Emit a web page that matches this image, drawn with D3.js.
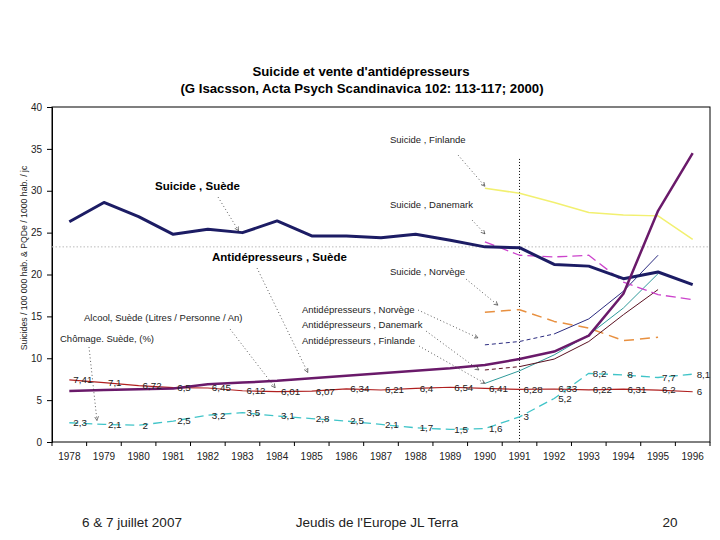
<!DOCTYPE html>
<html><head><meta charset="utf-8">
<script src="https://cdn.jsdelivr.net/npm/d3@7"></script>
<style>
html,body{margin:0;padding:0;background:#fff;}
svg{display:block;font-family:"Liberation Sans",Arial,sans-serif;}
</style></head>
<body>
<svg id="chart" width="720" height="540"></svg>
<script>
const years = [1978,1979,1980,1981,1982,1983,1984,1985,1986,1987,1988,1989,1990,1991,1992,1993,1994,1995,1996];
const yTicks = [0,5,10,15,20,25,30,35,40];
const N = null;
const suicideSuede    = [26.3,28.6,26.9,24.8,25.4,25.0,26.4,24.6,24.6,24.4,24.8,24.1,23.3,23.2,21.2,21.0,19.5,20.3,18.8];
const suicideFinlande = [N,N,N,N,N,N,N,N,N,N,N,N,30.3,29.7,28.6,27.4,27.1,27.0,24.2];
const suicideDanemark = [N,N,N,N,N,N,N,N,N,N,N,N,23.9,22.3,22.1,22.3,19.1,17.6,17.0];
const suicideNorvege  = [N,N,N,N,N,N,N,N,N,N,N,N,15.5,15.8,14.4,13.6,12.1,12.5,N];
const adSuede         = [6.1,6.2,6.3,6.4,6.9,7.1,7.3,7.6,7.9,8.2,8.5,8.8,9.2,9.9,10.8,12.7,17.7,27.6,34.5];
const adNorvege       = [N,N,N,N,N,N,N,N,N,N,N,N,11.6,12.0,12.9,14.7,18.0,22.3,N];
const adDanemark      = [N,N,N,N,N,N,N,N,N,N,N,N,8.6,9.0,9.9,12.0,15.2,18.2,N];
const adFinlande      = [N,N,N,N,N,N,N,N,N,N,N,N,7.0,8.5,10.4,12.8,16.0,20.1,N];
const alcoolSuede     = [7.41,7.1,6.72,6.5,6.45,6.12,6.01,6.07,6.34,6.21,6.4,6.54,6.41,6.28,6.33,6.22,6.31,6.2,6];
const chomageSuede    = [2.3,2.1,2,2.5,3.2,3.5,3.1,2.8,2.5,2.1,1.7,1.5,1.6,3,5.2,8.2,8,7.7,8.1];
const referenceLevel = 23.3;
const markerYear = 1991;

const svg = d3.select("#chart");
const M = {left:52, right:710, top:107, bottom:442};
const x = d3.scaleBand().domain(years).range([M.left, M.right]).padding(0);
const cx = yr => x(yr) + x.bandwidth()/2;
const y = d3.scaleLinear().domain([0,40]).range([M.bottom, M.top]);

// Title
svg.append("text").attr("x",361).attr("y",76).attr("text-anchor","middle")
  .attr("font-weight","bold").attr("font-size",13.2).text("Suicide et vente d'antidépresseurs");
svg.append("text").attr("x",362).attr("y",93).attr("text-anchor","middle")
  .attr("font-weight","bold").attr("font-size",13.2).text("(G Isacsson, Acta Psych Scandinavica 102: 113-117; 2000)");

// Plot frame
svg.append("rect").attr("x",M.left).attr("y",M.top).attr("width",M.right-M.left).attr("height",M.bottom-M.top)
  .attr("fill","none").attr("stroke","#000").attr("stroke-width",1);

// Y axis
const yAxis = svg.append("g").attr("transform",`translate(${M.left},0)`)
  .call(d3.axisLeft(y).tickValues(yTicks).tickSize(5).tickFormat(d3.format("d")));
yAxis.select(".domain").attr("stroke","#000");
yAxis.selectAll("text").attr("font-size",10).attr("fill","#222").attr("font-family","Liberation Sans, Arial").attr("dx",-2);

// X axis
const xAxis = svg.append("g").attr("transform",`translate(0,${M.bottom})`)
  .call(d3.axisBottom(x).tickSize(0).tickPadding(11));
xAxis.select(".domain").remove();
xAxis.selectAll("text").attr("font-size",10).attr("fill","#222").attr("font-family","Liberation Sans, Arial");
svg.append("g").selectAll("line").data(years.concat(["end"])).join("line")
  .attr("x1",d=>d==="end"?M.right:x(d)).attr("x2",d=>d==="end"?M.right:x(d))
  .attr("y1",M.bottom).attr("y2",M.bottom+4).attr("stroke","#000");

// Y title
svg.append("text").attr("transform",`translate(27,258) rotate(-90)`).attr("text-anchor","middle")
  .attr("font-size",8.7).attr("fill","#222").text("Suicides / 100 000 hab. & PQDe / 1000 hab. / jc");

// Reference lines
svg.append("line").attr("x1",M.left).attr("x2",M.right).attr("y1",y(referenceLevel)).attr("y2",y(referenceLevel))
  .attr("stroke","#bbb").attr("stroke-width",1).attr("stroke-dasharray","1.5,2");
svg.append("line").attr("x1",cx(markerYear)).attr("x2",cx(markerYear)).attr("y1",y(33.8)).attr("y2",M.bottom)
  .attr("stroke","#000").attr("stroke-width",1).attr("stroke-dasharray","1,2");

const line = d3.line().defined(d=>d.v!==null).x(d=>cx(d.year)).y(d=>y(d.v));
const pts = arr => years.map((yr,i)=>({year:yr,v:arr[i]}));

function drawSeries(arr, color, width, dash, dashUntil){
  const p = pts(arr);
  if(dashUntil){
    const a = p.filter(d=>d.year<=dashUntil), b = p.filter(d=>d.year>=dashUntil);
    svg.append("path").attr("d",line(a)).attr("fill","none").attr("stroke",color).attr("stroke-width",width).attr("stroke-dasharray","4,3");
    svg.append("path").attr("d",line(b)).attr("fill","none").attr("stroke",color).attr("stroke-width",width);
  } else {
    svg.append("path").attr("d",line(p)).attr("fill","none").attr("stroke",color)
      .attr("stroke-width",width).attr("stroke-dasharray",dash||null).attr("stroke-linejoin","round");
  }
}

drawSeries(chomageSuede, "#40c4c8", 1.3, "9,5");
drawSeries(alcoolSuede, "#b02020", 1.2, null);
drawSeries(suicideFinlande, "#f2f070", 1.5, null);
drawSeries(suicideNorvege, "#e89040", 1.5, "10,6");
drawSeries(adFinlande, "#2f9a9a", 1, null);
drawSeries(adDanemark, "#5a1020", 1, null, 1991);
drawSeries(adNorvege, "#2b2b80", 1, null, 1992);
drawSeries(suicideDanemark, "#cc44cc", 1.3, "10,5");
drawSeries(suicideSuede, "#1c1c64", 3, null);
drawSeries(adSuede, "#6a1a6a", 2.5, null);

// Data labels
const fmt = v => String(v).replace(".",",");
function labels(arr){
  svg.append("g").selectAll("text").data(pts(arr)).join("text")
    .attr("x",d=>cx(d.year)+4).attr("y",d=>y(d.v)+3.4)
    .attr("font-size",9.8).attr("fill","#222").text(d=>fmt(d.v));
}
labels(alcoolSuede);
labels(chomageSuede);

// Annotations
const defs = svg.append("defs");
defs.append("marker").attr("id","arr").attr("viewBox","0 0 6 6").attr("refX",5).attr("refY",3)
  .attr("markerWidth",6).attr("markerHeight",6).attr("orient","auto")
  .append("path").attr("d","M0,0.5 L5,3 L0,5.5").attr("fill","none").attr("stroke","#333").attr("stroke-width",0.8);

const annotations = [
  {text:"Suicide , Finlande", tx:390, ty:143, bold:false, from:[458,155], series:suicideFinlande, year:1990, off:[0,-2]},
  {text:"Suicide , Danemark", tx:390, ty:208, bold:false, from:[472,220], series:suicideDanemark, year:1990, off:[0,-8]},
  {text:"Suicide , Norvège", tx:390, ty:275, bold:false, from:[466,279], series:suicideNorvege, year:1990, off:[13,-7]},
  {text:"Suicide , Suède", tx:155, ty:190, bold:true, from:[218,197], series:suicideSuede, year:1983, off:[-4,-2]},
  {text:"Antidépresseurs , Suède", tx:212, ty:261, bold:true, from:[257,268], series:adSuede, year:1985, off:[-4,-6]},
  {text:"Antidépresseurs , Norvège", tx:302, ty:313, bold:false, from:[418,310], series:adNorvege, year:1990, off:[-7,-7]},
  {text:"Antidépresseurs , Danemark", tx:302, ty:328, bold:false, from:[426,331], series:adDanemark, year:1990, off:[-6,0]},
  {text:"Antidépresseurs , Finlande", tx:302, ty:344, bold:false, from:[419,346], series:adFinlande, year:1990, off:[0,0]},
  {text:"Alcool, Suède (Litres / Personne / An)", tx:84, ty:321, bold:false, from:[230,329], series:alcoolSuede, year:1984, off:[-2,-4]},
  {text:"Chômage. Suède, (%)", tx:60, ty:342, bold:false, from:[89,347], series:chomageSuede, year:1979, off:[-7,-4]}
];
annotations.forEach(a=>{
  const i = years.indexOf(a.year);
  const tx = cx(a.year)+a.off[0], ty = y(a.series[i])+a.off[1];
  svg.append("line").attr("x1",a.from[0]).attr("y1",a.from[1]).attr("x2",tx).attr("y2",ty)
    .attr("stroke","#333").attr("stroke-width",0.8).attr("stroke-dasharray","1,2.5").attr("marker-end","url(#arr)");
  const t = svg.append("text").attr("x",a.tx).attr("y",a.ty).attr("font-size",a.bold?11.5:9.5)
    .attr("font-weight",a.bold?"bold":"normal").attr("fill",a.bold?"#000":"#222").text(a.text);
});

// Footer
svg.append("text").attr("x",132).attr("y",527).attr("text-anchor","middle").attr("font-size",13.5).attr("fill","#222").text("6 & 7 juillet 2007");
svg.append("text").attr("x",377).attr("y",527).attr("text-anchor","middle").attr("font-size",13.5).attr("fill","#222").text("Jeudis de l'Europe JL Terra");
svg.append("text").attr("x",670).attr("y",527).attr("text-anchor","middle").attr("font-size",13.5).attr("fill","#222").text("20");
</script>
</body></html>
